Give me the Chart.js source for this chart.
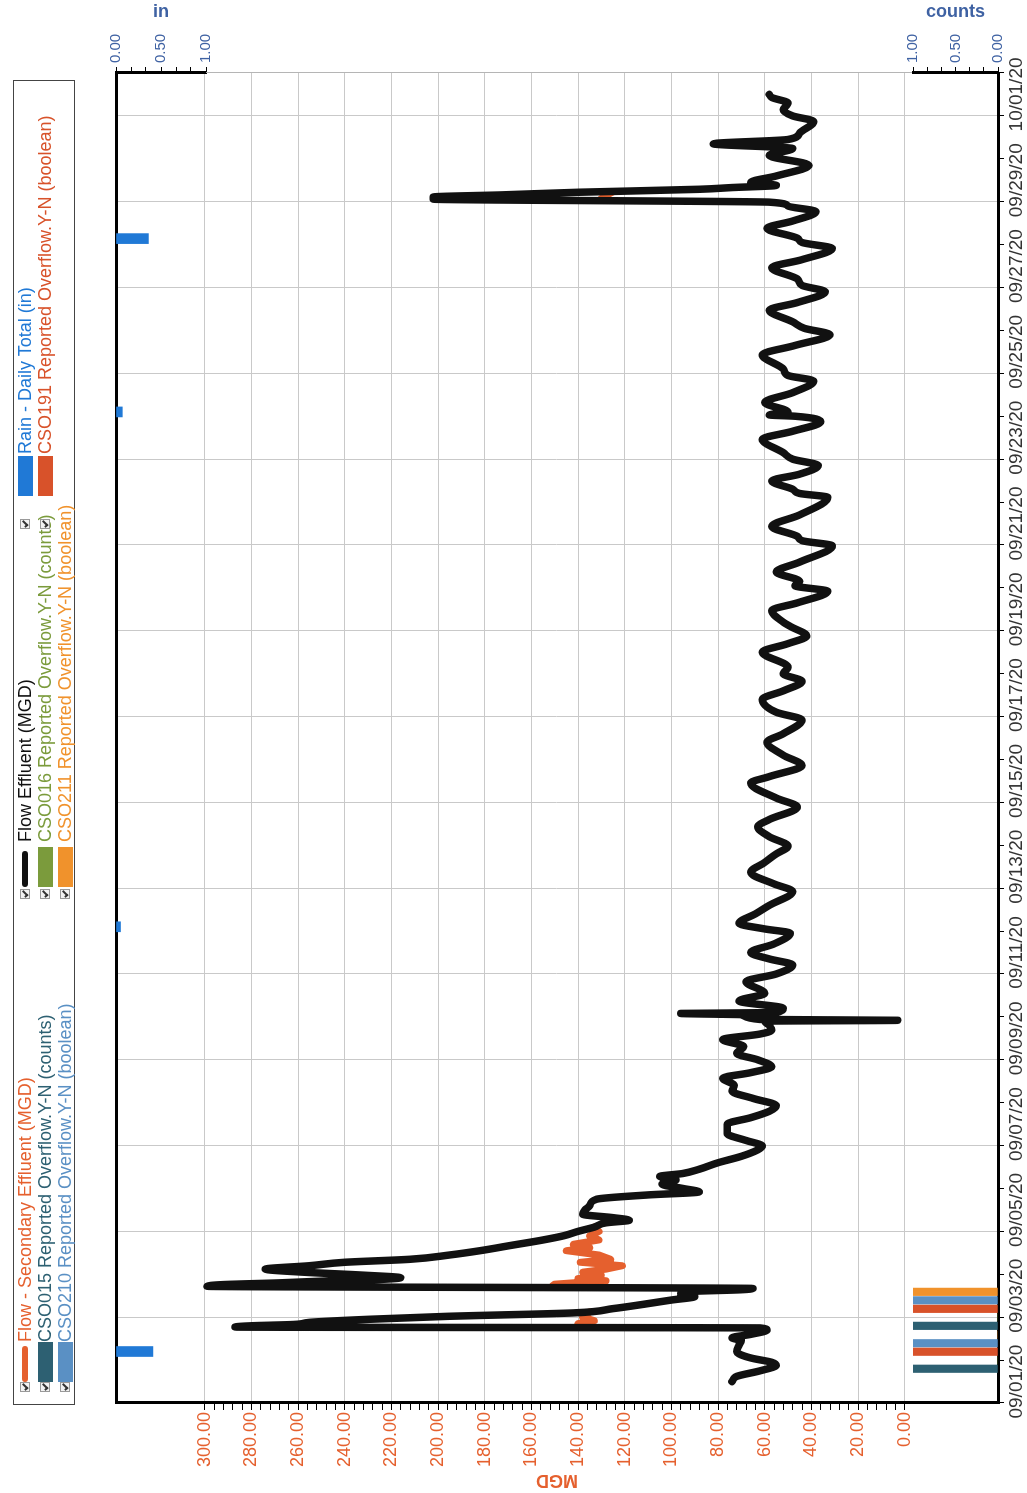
<!DOCTYPE html>
<html>
<head>
<meta charset="utf-8">
<script src="https://cdn.jsdelivr.net/npm/chart.js@4.4.0/dist/chart.umd.min.js"></script>
<style>
  html, body { margin: 0; padding: 0; background: #fff; }
  body { width: 1027px; height: 1493px; overflow: hidden; position: relative; }
  /* the chart is drawn landscape, then turned a quarter left like the scan */
  #page { position: absolute; left: 0; top: 0; width: 1493px; height: 1027px;
          transform-origin: 0 0; transform: translate(0, 1493px) rotate(-90deg); }
  #legend { position: absolute; left: 88px; top: 13px; width: 1325px; height: 62px;
            border: 1px solid #444; box-sizing: border-box;
            font-family: 'Liberation Sans', Arial, sans-serif; font-size: 18px; }
  .item { position: absolute; height: 20px; line-height: 20px; white-space: nowrap; }
  .chk { position: absolute; top: 5px; width: 8px; height: 8px; border: 1px solid #999; background: #f2f2f2; }
  .chk::after { content: ''; position: absolute; left: 2px; top: 0; width: 2px; height: 5px;
                border: solid #333; border-width: 0 2px 2px 0; transform: rotate(45deg); }
  .sym { position: absolute; }
  .txt { position: absolute; }
</style>
</head>
<body>
<div id="page">
  <div id="legend"></div>
  <canvas id="myChart" width="1493" height="1027"></canvas>
</div>
<script>
'use strict';

// ******* DATA *******
let dateLabels = ['09/01/20', '09/03/20', '09/05/20', '09/07/20', '09/09/20', '09/11/20', '09/13/20', '09/15/20',
  '09/17/20', '09/19/20', '09/21/20', '09/23/20', '09/25/20', '09/27/20', '09/29/20', '10/01/20'];
let mgdTicks = [0, 20, 40, 60, 80, 100, 120, 140, 160, 180, 200, 220, 240, 260, 280, 300];
let smallTicks = [0, 0.5, 1];

// days since 09/01/20 00:00
let effluentDays = [0.00, 0.12, 0.25, 0.38, 0.45, 0.55, 0.70, 0.85, 0.95, 1.02, 1.10, 1.20, 1.25,
  1.27, 1.30, 1.33, 1.38, 1.45, 1.52, 1.60, 1.70, 1.80, 1.90, 1.98, 2.05, 2.10, 2.14, 2.17,
  2.22, 2.26, 2.30, 2.34, 2.38, 2.42, 2.48, 2.55, 2.62, 2.70, 2.78, 2.85, 2.95, 3.05, 3.18,
  3.30, 3.40, 3.50, 3.60, 3.70, 3.76, 3.82, 3.90, 4.00, 4.10, 4.25, 4.35, 4.42, 4.50, 4.60,
  4.70, 4.78, 4.85, 4.95, 5.10, 5.25, 5.40, 5.49, 5.62, 5.78, 6.00, 6.15, 6.30, 6.43, 6.60,
  6.77, 6.90, 7.07, 7.20, 7.34, 7.50, 7.65, 7.81, 7.97, 8.10, 8.19, 8.30, 8.40, 8.42, 8.44,
  8.55, 8.58, 8.60, 8.70, 8.87, 9.05, 9.32, 9.50, 9.71, 9.85, 10.00, 10.20, 10.45, 10.55,
  10.68, 10.90, 11.10, 11.42, 11.60, 11.87, 12.10, 12.30, 12.48, 12.70, 12.93, 13.10, 13.39,
  13.60, 13.95, 14.10, 14.36, 14.60, 14.90, 15.10, 15.42, 15.60, 15.90, 16.10, 16.32, 16.50,
  16.65, 17.00, 17.20, 17.38, 17.60, 17.70, 17.97, 18.15, 18.42, 18.55, 18.65, 18.87, 19.10,
  19.48, 19.60, 19.70, 19.93, 20.20, 20.61, 20.70, 20.80, 20.99, 21.15, 21.35, 21.50, 21.65,
  21.96, 22.15, 22.37, 22.50, 22.53, 22.60, 22.82, 23.05, 23.32, 23.45, 23.60, 23.93, 24.15,
  24.40, 24.55, 24.70, 24.97, 25.15, 25.40, 25.55, 25.70, 25.96, 26.15, 26.41, 26.55, 26.65,
  26.88, 27.05, 27.27, 27.40, 27.49, 27.56, 27.61, 27.66, 27.72, 27.79, 27.83, 27.88,
  27.95, 28.10, 28.35, 28.58, 28.74, 28.85, 28.95, 29.10, 29.37, 29.50, 29.64, 29.80, 29.93, 30.00];
let effluentMGD = [74, 72, 62, 55, 57, 66, 72, 71, 70, 74, 66, 59, 62,
  287, 280, 262, 255, 230, 196, 142, 125, 112, 100, 90, 96, 92, 70, 65,
  299, 292, 268, 250, 225, 216, 232, 258, 274, 255, 240, 212, 195, 182, 168,
  155, 146, 140, 133, 128, 118, 125, 138, 137, 135, 132, 110, 88, 95, 104,
  98, 105, 95, 88, 80, 70, 63, 61, 68, 76, 76, 66, 58, 55, 65,
  74, 73, 78, 66, 57, 63, 72, 69, 78, 62, 57, 58, 60, 3, 62,
  70, 96, 55, 52, 71, 60, 68, 55, 48, 58, 66, 56, 49, 60,
  71, 64, 58, 48, 56, 66, 60, 55, 50, 58, 63, 58, 46,
  55, 66, 58, 44, 52, 59, 52, 44, 55, 61, 52, 44, 52,
  50, 61, 50, 42, 49, 52, 57, 46, 33, 47, 45, 55, 45,
  31, 44, 46, 57, 45, 33, 45, 48, 57, 45, 37, 48, 52,
  61, 48, 36, 47, 58, 50, 60, 48, 39, 50, 52, 61, 47,
  32, 43, 48, 58, 46, 34, 44, 46, 57, 44, 31, 44, 46,
  59, 48, 38, 50, 58, 202, 202, 172, 140, 88, 74, 55,
  66, 55, 41, 58, 48, 82, 50, 45, 39, 48, 52, 50, 57, 58];

// secondary effluent only shows where it leaves the effluent trace (null = break)
let secondaryDays = [1.26, 1.29, 1.35, 1.42, 1.50, 1.58, 1.62, 1.63,
  2.23, 2.27, 2.31, 2.35, 2.40, 2.48, 2.55, 2.62, 2.70, 2.78, 2.85, 2.95, 3.05, 3.12, 3.20,
  3.30, 3.40, 3.50, 3.60, 3.62,
  27.58, 27.64, 27.70, 27.73];
let secondaryMGD = [136, 138, 140, 133, 138, 136, 135, null,
  151, 150, 140, 128, 140, 130, 138, 128, 121, 139, 126, 131, 145, 135, 142,
  131, 135, 131, 133, null,
  130, 128, 126, 125];

let rainDays = [0.70, 10.60, 22.60, 26.64];
let rainInches = [0.41, 0.05, 0.07, 0.36];

let overflowDays = [1.19, 2.19];
let cso015 = [1, 1];
let cso016 = [0, 0];
let cso191 = [1, 1];
let cso210 = [1, 1];
let cso211 = [0, 1];

// ******* HELPERS *******
function toPoints(xs, ys) {
  let pts = [];
  for (let i = 0; i < xs.length; i++) {
    pts.push({ x: xs[i], y: ys[i] });
  }
  return pts;
}

function minorTicks(from, to, step) {
  let out = [];
  for (let v = from; v <= to + 1e-9; v += step) {
    out.push({ value: Math.round(v * 1000) / 1000 });
  }
  return out;
}

function isLabelled(list, v) {
  return list.some(t => Math.abs(t - v) < 1e-6);
}

let orangeRed = '#e5602e';
let axisBlue = '#3f62a3';
let fontFamily = "'Liberation Sans', Arial, sans-serif";
Chart.defaults.font.family = fontFamily;

function csoBars(label, values, colour) {
  return {
    label: label,
    type: 'bar',
    data: toPoints(overflowDays, values),
    backgroundColor: colour,
    barThickness: 8.5,
    maxBarThickness: 7.5,
    xAxisID: 'x',
    yAxisID: 'yCount',
    order: 2
  };
}

// ******* CHART *******
const data = {
  datasets: [{
    label: 'Flow - Secondary Effluent (MGD)',
    type: 'line',
    data: toPoints(secondaryDays, secondaryMGD),
    borderColor: orangeRed,
    borderWidth: 7,
    pointRadius: 0,
    borderCapStyle: 'round',
    borderJoinStyle: 'round',
    xAxisID: 'x',
    yAxisID: 'y',
    order: 1
  },
  {
    label: 'Flow Effluent (MGD)',
    type: 'line',
    data: toPoints(effluentDays, effluentMGD),
    borderColor: '#111',
    borderWidth: 7.5,
    pointRadius: 0,
    cubicInterpolationMode: 'monotone',
    borderCapStyle: 'round',
    borderJoinStyle: 'round',
    xAxisID: 'x',
    yAxisID: 'y',
    order: 0
  },
  {
    label: 'Rain - Daily Total (in)',
    type: 'bar',
    data: toPoints(rainDays, rainInches),
    backgroundColor: '#2079d6',
    barThickness: 10,
    grouped: false,
    xAxisID: 'xRain',
    yAxisID: 'yRain',
    order: 2
  },
  csoBars('CSO015 Reported Overflow.Y-N (counts)', cso015, '#2d6072'),
  csoBars('CSO016 Reported Overflow.Y-N (counts)', cso016, '#7b9b3c'),
  csoBars('CSO191 Reported Overflow.Y-N (boolean)', cso191, '#d8522a'),
  csoBars('CSO210 Reported Overflow.Y-N (boolean)', cso210, '#5a90c4'),
  csoBars('CSO211 Reported Overflow.Y-N (boolean)', cso211, '#f0922c')]
};

const config = {
  type: 'line',
  data: data,
  options: {
    responsive: false,
    animation: false,
    devicePixelRatio: 1,
    layout: { padding: { top: 116, left: 0, right: 0, bottom: 0 } },
    plugins: {
      legend: { display: false },
      tooltip: { enabled: false }
    },
    scales: {
      x: {
        type: 'linear',
        position: 'bottom',
        min: 0,
        max: 30,
        ticks: {
          stepSize: 1,
          autoSkip: false,
          maxRotation: 0,
          minRotation: 0,
          padding: 1,
          color: '#333',
          font: { size: 19 },
          callback: (v) => (v % 2 === 0 ? dateLabels[v / 2] : '')
        },
        grid: {
          color: (c) => (c.tick && c.tick.value % 2 === 0 ? '#c9c9c9' : 'rgba(0,0,0,0)'),
          tickColor: '#000',
          tickLength: 6
        },
        border: { color: '#000', width: 3 },
        afterFit: (axis) => { axis.height = 29; }
      },
      xTop: {
        type: 'linear',
        position: 'top',
        display: true,
        min: 0,
        max: 30,
        ticks: { display: false },
        grid: { display: false, drawTicks: false },
        border: { color: '#000', width: 3 },
        afterFit: (axis) => { axis.height = 0; }
      },
      xRain: {
        type: 'linear',
        display: false,
        min: 0,
        max: 30,
        ticks: { stepSize: 1 }
      },
      y: {
        position: 'left',
        min: -40,
        max: 338,
        afterBuildTicks: (axis) => { axis.ticks = minorTicks(0, 300, 4); },
        ticks: {
          autoSkip: false,
          padding: 2,
          color: orangeRed,
          font: { size: 18 },
          callback: (v) => (isLabelled(mgdTicks, v) ? v.toFixed(2) : '')
        },
        grid: {
          color: (c) => (c.tick && isLabelled(mgdTicks, c.tick.value) ? '#c9c9c9' : 'rgba(0,0,0,0)'),
          tickColor: '#000',
          tickLength: 7
        },
        border: { color: '#000', width: 3 },
        title: { display: true, text: 'MGD', color: orangeRed, font: { size: 18, weight: 'bold' }, padding: { top: 2, bottom: 0 } },
        afterFit: (axis) => { axis.width = 90; }
      },
      yRain: {
        position: 'right',
        stack: 'right',
        stackWeight: 90,
        reverse: true,
        min: 0,
        max: 1,
        afterBuildTicks: (axis) => { axis.ticks = minorTicks(0, 1, 1 / 6); },
        ticks: {
          autoSkip: false,
          padding: 4,
          color: axisBlue,
          font: { size: 15 },
          callback: (v) => (isLabelled(smallTicks, v) ? v.toFixed(2) : '')
        },
        grid: { drawOnChartArea: false, tickColor: '#000', tickLength: 6 },
        border: { color: '#000', width: 3 },
        title: { display: true, text: 'in', color: axisBlue, font: { size: 18, weight: 'bold' }, padding: { top: 1, bottom: 0 } },
        afterFit: (axis) => { axis.width = 73; }
      },
      ySpace: {
        position: 'right',
        stack: 'right',
        stackWeight: 707,
        min: 0,
        max: 1,
        ticks: { display: false },
        grid: { display: false, drawTicks: false },
        border: { color: '#b5b5b5', width: 1 },
        afterFit: (axis) => { axis.width = 73; }
      },
      yCount: {
        position: 'right',
        stack: 'right',
        stackWeight: 85,
        min: 0,
        max: 1,
        afterBuildTicks: (axis) => { axis.ticks = minorTicks(0, 1, 1 / 6); },
        ticks: {
          autoSkip: false,
          padding: 4,
          color: axisBlue,
          font: { size: 15 },
          callback: (v) => (isLabelled(smallTicks, v) ? v.toFixed(2) : '')
        },
        grid: { drawOnChartArea: false, tickColor: '#000', tickLength: 6 },
        border: { color: '#000', width: 3 },
        title: { display: true, text: 'counts', color: axisBlue, font: { size: 18, weight: 'bold' }, padding: { top: 1, bottom: 0 } },
        afterFit: (axis) => { axis.width = 73; }
      }
    }
  }
};

let canvasChart = document.getElementById('myChart');
const myChart = new Chart(canvasChart, config);

// ******* LEGEND (three columns, like the scan) *******
// offsets inside the legend box: checkbox, symbol, text
let legendColumns = [
  { chk: 12, sym: 22, txt: 62 },
  { chk: 505, sym: 517, txt: 562 },
  { chk: 875, sym: 908, txt: 950 }
];
let legendRows = [1, 21, 41];
let legendBox = document.getElementById('legend');

myChart.data.datasets.forEach((ds, i) => {
  let col = legendColumns[i % 3];
  let item = document.createElement('div');
  item.className = 'item';
  item.style.left = '0px';
  item.style.top = legendRows[Math.floor(i / 3)] + 'px';
  let colour = ds.type === 'line' ? ds.borderColor : ds.backgroundColor;

  let chk = document.createElement('span');
  chk.className = 'chk';
  chk.style.left = col.chk + 'px';
  item.appendChild(chk);

  let sym = document.createElement('span');
  sym.className = 'sym';
  if (ds.type === 'line') {
    sym.style.cssText = `left:${col.sym}px;top:7px;width:36px;height:6px;border-radius:3px;background:${colour}`;
  } else {
    sym.style.cssText = `left:${col.sym}px;top:3px;width:40px;height:15px;background:${colour}`;
  }
  item.appendChild(sym);

  let txt = document.createElement('span');
  txt.className = 'txt';
  txt.style.left = col.txt + 'px';
  txt.style.color = colour;
  txt.textContent = ds.label;
  item.appendChild(txt);

  legendBox.appendChild(item);
});
</script>
</body>
</html>
